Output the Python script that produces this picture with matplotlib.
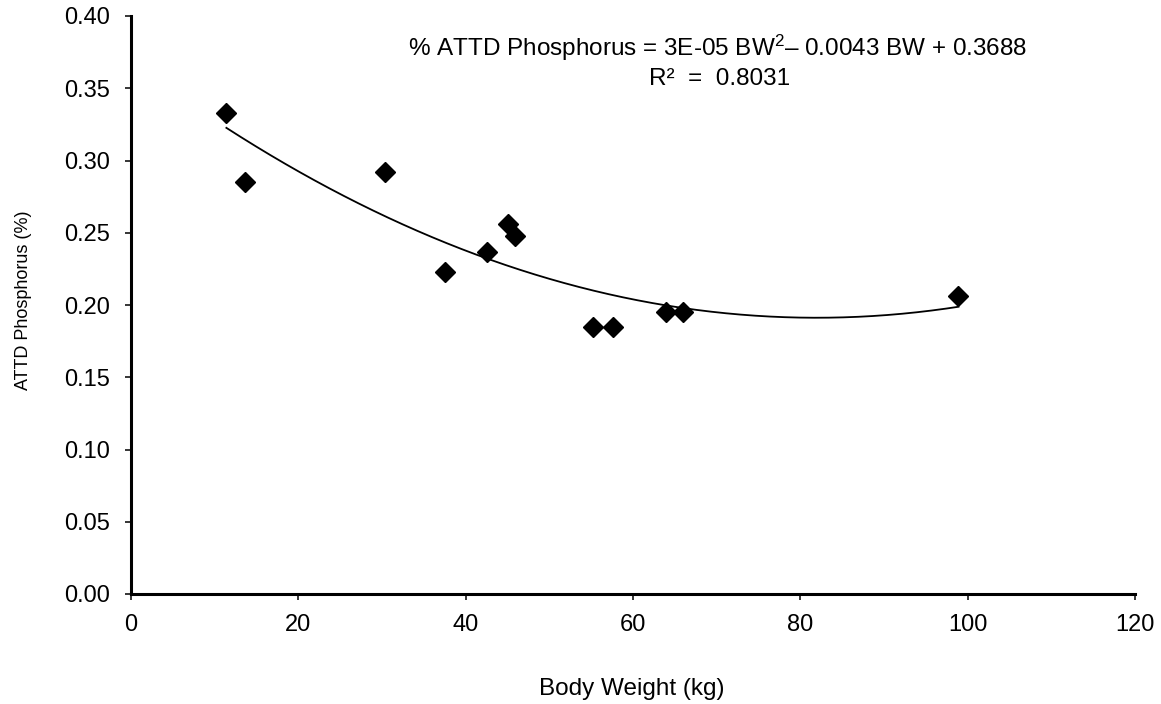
import numpy as np
import matplotlib
matplotlib.use("Agg")
import matplotlib.pyplot as plt
from matplotlib import font_manager
from matplotlib.ticker import FormatStrFormatter

plt.rcParams['font.family'] = ['Liberation Sans', 'DejaVu Sans']
plt.rcParams['mathtext.fontset'] = 'custom'
plt.rcParams['mathtext.rm'] = 'Liberation Sans'
plt.rcParams['mathtext.it'] = 'Liberation Sans'

body_weight = [11.4, 13.6, 30.4, 37.5, 42.5, 45.0, 45.9, 55.2, 57.6, 64.0, 66.0, 98.9]
attd_p = [0.333, 0.285, 0.292, 0.223, 0.237, 0.256, 0.248, 0.185, 0.185, 0.195, 0.195, 0.206]
x_ticks = [0, 20, 40, 60, 80, 100, 120]
y_ticks = [0.00, 0.05, 0.10, 0.15, 0.20, 0.25, 0.30, 0.35, 0.40]
eq_text = "% ATTD Phosphorus = 3E-05 BW$^{2}$\u2013 0.0043 BW + 0.3688"
r2_text = "R\u00b2  =  0.8031"

names = {f.name for f in font_manager.fontManager.ttflist}
if 'Liberation Sans Narrow' in names:
    ylab_family, ylab_size = ['Liberation Sans Narrow', 'Liberation Sans'], 15
else:
    ylab_family, ylab_size = ['Liberation Sans', 'DejaVu Sans'], 13

W, H = 1161, 704
fig = plt.figure(figsize=(W / 100, H / 100), dpi=100)
left, right, top, bottom = 131, 1135, 16, 594
ax = fig.add_axes([left / W, 1 - bottom / H, (right - left) / W, (bottom - top) / H])

x = np.array(body_weight)
y = np.array(attd_p)
coef = np.polyfit(x, y, 2)
xs = np.linspace(x.min(), x.max(), 300)
ax.plot(xs, np.polyval(coef, xs), color='black', lw=1.3, zorder=2)
ax.plot(x, y, linestyle='none', marker='D', markersize=10, color='black', zorder=3)

ax.set_xlim(0, 120)
ax.set_ylim(0, 0.40)
ax.set_xticks(x_ticks)
ax.set_yticks(y_ticks)
ax.yaxis.set_major_formatter(FormatStrFormatter('%.2f'))
ax.tick_params(direction='out', length=4.5, width=1.1, labelsize=17, colors='black')
ax.tick_params(axis='x', pad=10)
ax.tick_params(axis='y', pad=10.5)
for s in ['top', 'right']:
    ax.spines[s].set_visible(False)
for s in ['left', 'bottom']:
    ax.spines[s].set_linewidth(2.2)

fig.text(632 / W, 1 - 695 / H, "Body Weight (kg)", ha='center', va='baseline', fontsize=17.5)
fig.text(24 / W, 1 - 300 / H, "ATTD Phosphorus (%)", ha='center', va='center',
         rotation=90, fontsize=ylab_size, family=ylab_family)

ax.text((718 - left) / (right - left), (bottom - 56) / (bottom - top), eq_text,
        transform=ax.transAxes, ha='center', va='baseline', fontsize=17.5)
ax.text((720 - left) / (right - left), (bottom - 85) / (bottom - top), r2_text,
        transform=ax.transAxes, ha='center', va='baseline', fontsize=17.5)

fig.savefig("out.png", dpi=100)
